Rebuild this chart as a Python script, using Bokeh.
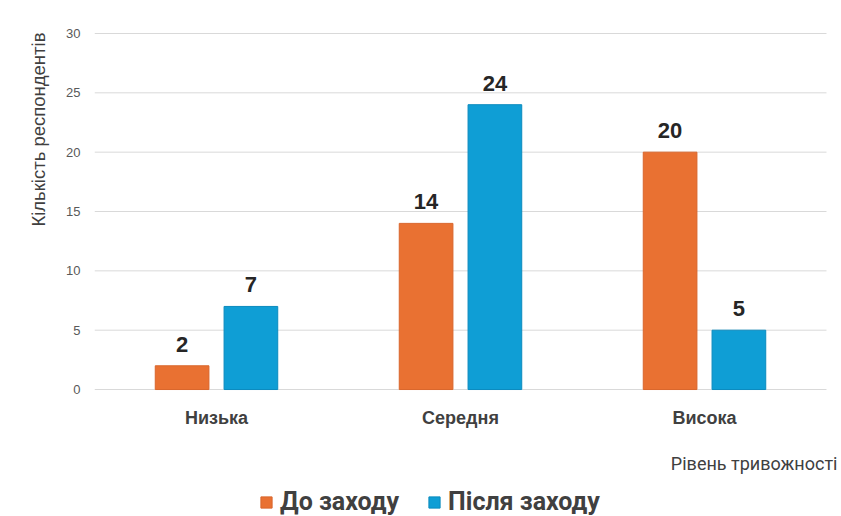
import math
from bokeh.plotting import figure
from bokeh.models import (ColumnDataSource, Range1d, LabelSet, Label, Title,
                          Legend, LegendItem, FixedTicker)
from bokeh.core.properties import value
from bokeh.embed import file_html
from bokeh.resources import INLINE

categories = ["Низька", "Середня", "Висока"]
before = [2, 14, 20]
after = [7, 24, 5]
series_names = ["До заходу", "Після заходу"]
y_ticks = [0, 5, 10, 15, 20, 25, 30]
x_title = "Рівень тривожності"
y_title = "Кількість респондентів"

ORANGE = "#E97132"
BLUE = "#0F9ED5"
OFF = 0.141
BAR_W = 0.22

n = len(categories)
centers = [i + 0.5 for i in range(n)]

src = ColumnDataSource(dict(
    cat=categories,
    xc=centers,
    xb=[c - OFF for c in centers],
    xa=[c + OFF for c in centers],
    before=before,
    after=after,
    before_lbl=[str(v) for v in before],
    after_lbl=[str(v) for v in after],
    zero=[0] * n,
))

grid_src = ColumnDataSource(dict(
    x0=[0] * len(y_ticks), x1=[n] * len(y_ticks), y=y_ticks))

# frame: x 94..841 px (category slots 244 px), y 32..516 px (0 at 389, 30 at 33)
p = figure(width=841, height=516,
           x_range=Range1d(0, 3.0615), y_range=Range1d(-10.70, 30.084),
           output_backend="svg", toolbar_location=None,
           min_border_left=94, min_border_right=0,
           min_border_top=32, min_border_bottom=0)

p.outline_line_color = None
p.background_fill_color = "white"
p.border_fill_color = "white"
p.xgrid.grid_line_color = None
p.ygrid.grid_line_color = None
p.xaxis.visible = False

p.segment(x0="x0", x1="x1", y0="y", y1="y", source=grid_src,
          line_color="#D9D9D9", line_width=1)

r1 = p.vbar(x="xb", top="before", width=BAR_W, source=src,
            fill_color=ORANGE, line_color="#D9662C", line_width=1)
r2 = p.vbar(x="xa", top="after", width=BAR_W, source=src,
            fill_color=BLUE, line_color="#0B8BBE", line_width=1)

for xcol, col in (("xb", "before"), ("xa", "after")):
    p.add_layout(LabelSet(x=xcol, y=col, text=col + "_lbl", source=src,
                          y_offset=14, text_align="center",
                          text_baseline="alphabetic",
                          text_font=value("Liberation Sans"),
                          text_font_style="bold",
                          text_font_size="22px", text_color="#262626"))

# category labels
p.add_layout(LabelSet(x="xc", y="zero", text="cat", source=src, y_offset=-28,
                      text_align="center", text_baseline="middle",
                      text_font=value("Liberation Sans"),
                      text_font_style="bold", text_font_size="18px",
                      text_color="#404040"))

# y axis
p.yaxis.ticker = FixedTicker(ticks=y_ticks)
p.yaxis.axis_line_color = None
p.yaxis.major_tick_line_color = None
p.yaxis.major_tick_out = 0
p.yaxis.major_tick_in = 0
p.yaxis.minor_tick_line_color = None
p.yaxis.major_label_standoff = 14
p.yaxis.major_label_text_font = "Liberation Sans"
p.yaxis.major_label_text_font_size = "13px"
p.yaxis.major_label_text_color = "#595959"

p.add_layout(Title(text=y_title, align="right", offset=0, standoff=29,
                   text_font="Liberation Sans", text_font_style="normal",
                   text_font_size="18.5px", text_color="#404040"), "left")

p.add_layout(Label(x=3.045, y=-6.23, text=x_title, text_align="right",
                   text_baseline="middle", text_font="Roboto",
                   text_font_size="18px", text_color="#404040"))

legend = Legend(items=[LegendItem(label=series_names[0], renderers=[r1]),
                       LegendItem(label=series_names[1], renderers=[r2])],
                location=(165, 0), orientation="horizontal",
                glyph_width=14, glyph_height=14, label_standoff=7, spacing=28,
                padding=0, margin=0, border_line_color=None,
                background_fill_alpha=0,
                label_text_font="Roboto", label_text_font_style="bold",
                label_text_font_size="25px", label_text_color="#404040")
p.add_layout(legend)

open("out.html", "w").write(file_html(p, INLINE))
